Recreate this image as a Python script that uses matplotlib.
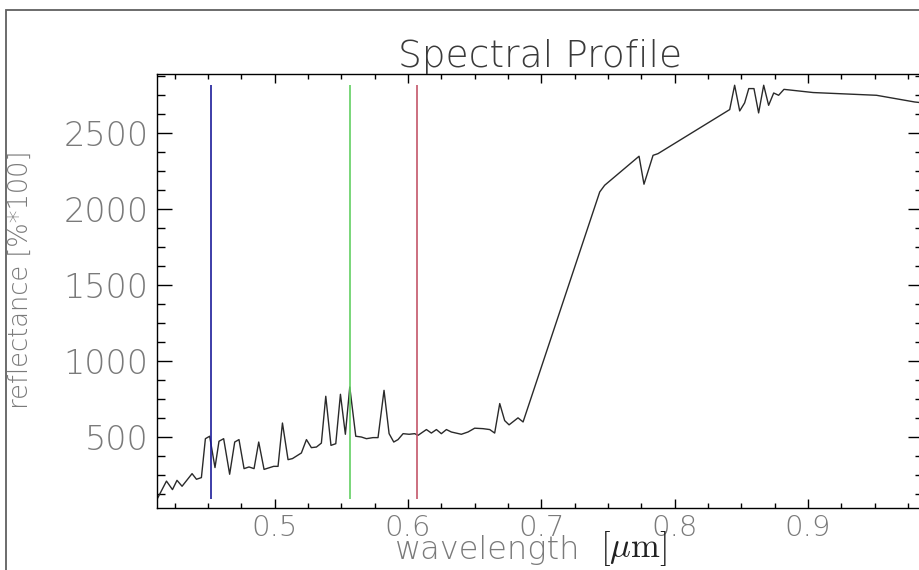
import numpy as np
import matplotlib
matplotlib.use("Agg")
import matplotlib.pyplot as plt
from matplotlib.ticker import MultipleLocator
from matplotlib.patches import Rectangle

# spectrum
wavelength = [0.4117, 0.4188, 0.4233, 0.4267, 0.4305, 0.438, 0.4413, 0.445, 0.448, 0.4512,
              0.4552, 0.4582, 0.4617, 0.4662, 0.47, 0.4732, 0.477, 0.4807, 0.4845, 0.488,
              0.492, 0.4992, 0.5025, 0.5058, 0.51, 0.5133, 0.52, 0.5238, 0.5275, 0.5313,
              0.535, 0.5383, 0.5422, 0.5458, 0.5493, 0.553, 0.5563, 0.5608, 0.565, 0.5688,
              0.5737, 0.5775, 0.582, 0.5858, 0.5893, 0.5925, 0.5963, 0.6008, 0.605, 0.6075,
              0.6138, 0.6175, 0.6213, 0.625, 0.6288, 0.6325, 0.64, 0.645, 0.65, 0.6562,
              0.6613, 0.665, 0.6688, 0.6725, 0.6758, 0.6825, 0.6863, 0.7438, 0.7475, 0.7733,
              0.777, 0.7838, 0.7875, 0.8413, 0.845, 0.8488, 0.8525, 0.8556, 0.8595, 0.863,
              0.8668, 0.8705, 0.8743, 0.878, 0.882, 0.9039, 0.9514, 0.98, 0.9863]
reflectance = [92, 212, 156, 217, 178, 261, 224, 235, 491, 507,
               301, 474, 491, 257, 469, 485, 294, 305, 294, 469,
               289, 309, 309, 594, 353, 360, 397, 485, 432, 436,
               462, 770, 447, 458, 783, 520, 831, 507, 502, 491,
               498, 498, 809, 524, 469, 485, 524, 520, 524, 513,
               551, 528, 551, 524, 551, 535, 520, 535, 560, 557,
               551, 528, 722, 610, 582, 628, 601, 2114, 2158, 2349,
               2165, 2355, 2366, 2656, 2816, 2647, 2700, 2794, 2794, 2634,
               2816, 2684, 2765, 2750, 2789, 2768, 2750, 2706, 2700]

# band positions (blue, green, red)
band_wl = [0.4522, 0.5565, 0.6071]
band_colors = ["#1c1c9a", "#62d062", "#c4566a"]

xticks = [0.5, 0.6, 0.7, 0.8, 0.9]
yticks = [500, 1000, 1500, 2000, 2500]

fontfam = ["DejaVu Sans"]
thin = "ultralight"
gray = "#7a7a7a"

fig = plt.figure(figsize=(9.2, 5.7), dpi=100)
fig.patches.append(Rectangle((6 / 920, -0.1), 1.2, 1 - 10 / 570 + 0.1,
                             transform=fig.transFigure, fill=False,
                             edgecolor="#606060", linewidth=1.3))

ax = fig.add_axes([157 / 920, 62 / 570, 766 / 920, 434 / 570])
ax.plot(wavelength, reflectance, color="#2a2a2a", linewidth=1.0)
ax.vlines(band_wl, min(reflectance), max(reflectance), colors=band_colors, linewidth=1.2)

ax.set_xlim(0.4117, 0.9863)
ax.set_ylim(35, 2890)

ax.xaxis.set_major_locator(MultipleLocator(0.1))
ax.xaxis.set_minor_locator(MultipleLocator(0.025))
ax.yaxis.set_major_locator(MultipleLocator(500))
ax.yaxis.set_minor_locator(MultipleLocator(125))
ax.tick_params(axis="both", which="both", direction="in", top=True, right=True,
               colors="black", labelcolor=gray)
ax.tick_params(axis="x", which="major", length=6.5, width=1, pad=4)
ax.tick_params(axis="x", which="minor", length=3.5, width=1)
ax.tick_params(axis="y", which="major", length=10.8, width=1, pad=6)
ax.tick_params(axis="y", which="minor", length=5.8, width=1)
ax.set_xticks(xticks)
ax.set_yticks(yticks)
ax.set_xticklabels([str(v) for v in xticks], family=fontfam, fontweight=thin, fontsize=21)
ax.set_yticklabels([str(v) for v in yticks], family=fontfam, fontweight=thin, fontsize=24)
for sp in ax.spines.values():
    sp.set_linewidth(1.0)

ax.set_title("Spectral Profile", family=fontfam, fontweight=thin, fontsize=27,
             color="#3a3a3a", pad=4)

# axis labels
fig.text(395 / 920, 1 - 550 / 570, "wavelength", family=fontfam, fontweight=thin,
         fontsize=23, color=gray, ha="left", va="center")
fig.text(600 / 920, 1 - 548 / 570, r"$[\mu\mathrm{m}]$", fontsize=25, color="#222222",
         ha="left", va="center", math_fontfamily="cm")
fig.text(20 / 920, 1 - 280 / 570, "reflectance [%*100]", family=fontfam,
         fontweight=thin, fontsize=18.5, color=gray, rotation=90,
         ha="center", va="center")

fig.savefig("out.png", dpi=100, facecolor="white")
